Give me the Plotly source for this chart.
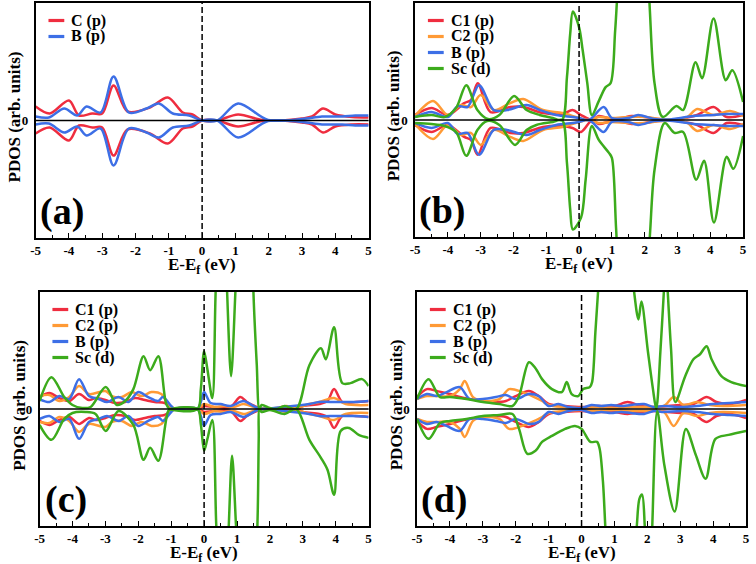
import plotly.graph_objects as go

# ---------------- data (arb. units; y axis spans -117..117) ----------------
X_TICKS = [-5, -4, -3, -2, -1, 0, 1, 2, 3, 4, 5]
X_TICK_TEXT = ["-5", "-4", "-3", "-2", "-1", "0", "1", "2", "3", "4", "5"]

# Panel (a)
A_C_E = [-5.0, -4.58, -4.0, -3.7, -3.3, -3.0, -2.66, -2.24, -1.57, -1.03, -0.58, -0.29, 0.0, 0.45, 1.08, 1.8, 2.4, 3.0, 3.3, 3.63, 4.0, 4.5, 5.0]
A_C_UP = [14, 7, 20, 5, 7, 7, 35, 9, 13, 23, 8, 6, 0, 0, 6, 0.5, 0, 2, 4, 12, 6, 3.5, 3]
A_C_DN = [-13, -7, -20, -5, -7, -7, -35, -9, -13, -23, -8, -6, 0, 0, -6, -0.5, 0, -2, -4, -12, -6, -4, -4]
A_B_E = [-5.0, -4.6, -4.14, -3.75, -3.47, -3.05, -2.66, -2.2, -1.67, -1.3, -0.88, -0.39, 0.0, 0.45, 1.08, 1.98, 3.0, 3.6, 4.2, 4.6, 5.0]
A_B_UP = [4, 3, 12, 5, 14, 8, 44, 8, 12, 17, 7, 5, 0, 0, 17, 0.5, 1.5, 4, 4, 5, 5]
A_B_DN = [-4, -3, -12, -6, -15, -8, -45, -8, -12, -17, -7, -5, 0, 0, -17, -0.5, -1.5, -4, -4, -5, -5]

# Panel (b)
B_C1_E = [-5.0, -4.5, -4.0, -3.5, -3.3, -3.09, -2.7, -2.1, -1.7, -1.1, -0.5, -0.2, 0.06, 0.4, 0.6, 1.0, 1.3, 1.6, 2.0, 2.4, 2.8, 3.1, 3.6, 4.1, 4.5, 5.0]
B_C1_UP = [5, 12, 5, 17, 20, 37, 8, 13, 13, 7, 6, 10, 5, 0, 4, 1, 2, 4, 3, 1, 0.5, 1.5, 5, 13, 3, 5]
B_C1_DN = [-5, -12, -5, -17, -20, -35, -8, -13, -13, -7, -6, -8, -12, 0, -4, -1, -2, -4, -3, -1, -0.5, -1.5, -5, -13, -3, -5]
B_C2_E = [-5.0, -4.45, -4.0, -3.6, -3.3, -3.0, -2.6, -2.1, -1.7, -1.1, -0.5, 0.0, 0.3, 0.6, 1.0, 1.5, 2.0, 2.5, 3.0, 3.3, 3.6, 4.1, 4.6, 5.0]
B_C2_UP = [4, 19, 5, 15, 13, 25, 10, 17, 21, 10, 7, 2, 0, 3, 2, 3, 3, 1, 1, 3, 11, 5, 9, 4]
B_C2_DN = [-4, -19, -5, -15, -13, -25, -10, -17, -21, -10, -7, -2, 0, -3, -2, -3, -3, -1, -1, -3, -11, -5, -9, -4]
B_B_E = [-5.0, -4.5, -4.0, -3.7, -3.4, -3.05, -2.6, -2.2, -1.6, -1.2, -0.7, -0.2, 0.0, 0.3, 0.75, 1.0, 1.5, 1.8, 2.3, 2.7, 3.5, 4.1, 4.5, 5.0]
B_B_UP = [3, 8, 3, 14, 13, 35, 10, 10, 15, 10, 5, 3, 2, 0, 13, 2, 2, 5, 1, 0.5, 4, 5, 6, 6]
B_B_DN = [-3, -8, -3, -14, -13, -35, -10, -10, -15, -10, -5, -3, -2, 0, -12, -2, -2, -5, -1, -0.5, -4, -5, -6, -6]
B_SC_UP_E = [-5.0, -4.5, -4.1, -3.75, -3.44, -3.1, -2.78, -2.43, -1.98, -1.6, -1.2, -0.8, -0.52, -0.37, -0.27, -0.19, 0.0, 0.11, 0.25, 0.39, 0.6, 0.81, 0.96, 1.1, 1.2, 1.5, 1.8, 2.1, 2.3, 2.55, 2.97, 3.17, 3.55, 3.75, 4.1, 4.47, 4.67, 5.0]
B_SC_UP = [3, 5, 3, 12, 35, 10, 1, 5, 24, 10, 5, 2, 0, 43, 87, 109, 93, 70, 37, 5, 19, 33, 37, 90, 140, 220, 220, 140, 37, 3, 14, 10, 58, 42, 102, 40, 50, 18]
B_SC_DN_E = [-5.0, -4.5, -4.1, -3.75, -3.44, -3.1, -2.8, -2.43, -1.95, -1.6, -1.3, -0.8, -0.52, -0.37, -0.27, -0.19, 0.06, 0.2, 0.39, 0.6, 0.91, 1.0, 1.13, 1.3, 1.6, 1.95, 2.15, 2.3, 2.61, 2.91, 3.17, 3.57, 3.81, 4.11, 4.5, 4.7, 5.0]
B_SC_DN = [-3, -4, -6, -12, -36, -10, -1, -5, -25, -10, -5, -2, 0, -43, -90, -110, -98, -60, -6, -20, -33, -38, -110, -200, -220, -200, -120, -50, -3, -13, -12, -60, -41, -103, -37, -49, -16]

# Panel (c)
C_C1_E = [-5.0, -4.7, -4.4, -4.1, -3.8, -3.5, -3.3, -3.0, -2.7, -2.4, -2.1, -1.8, -1.5, -1.2, -1.0, -0.85, -0.2, 0.0, 0.3, 0.8, 1.1, 1.3, 1.6, 1.8, 2.8, 3.0, 3.5, 3.75, 3.95, 4.2, 4.6, 5.0]
C_C1_UP = [12, 16, 11, 8, 15, 9, 11, 9, 6, 7, 11, 9, 7, 6, 2, 0, 0, 3, 2, 2, 12, 7, 2, 0, 0, 3, 5, 8, 20, 7, 7, 8]
C_C1_DN = [-12, -16, -11, -8, -15, -9, -11, -9, -6, -7, -11, -9, -7, -6, -2, 0, 0, -3, -2, -2, -12, -7, -2, 0, 0, -3, -5, -8, -19, -7, -7, -8]
C_C2_E = [-5.0, -4.7, -4.4, -4.1, -3.8, -3.5, -3.0, -2.8, -2.5, -2.2, -1.9, -1.6, -1.3, -1.1, -0.9, -0.2, 0.0, 0.3, 0.6, 0.9, 1.2, 1.6, 2.2, 2.5, 2.8, 3.2, 3.5, 3.95, 4.3, 5.0]
C_C2_UP = [13, 14, 8, 12, 23, 15, 18, 13, 12, 17, 13, 17, 15, 5, 0, 0, 5, 2, 3, 2, 5, 1, 1, 3, 1, 5, 7, 11, 5, 4]
C_C2_DN = [-13, -14, -8, -12, -23, -15, -18, -13, -12, -17, -13, -17, -15, -5, 0, 0, -5, -2, -3, -2, -5, -1, -1, -3, -1, -5, -7, -11, -5, -4]
C_B_E = [-5.0, -4.7, -4.4, -4.1, -3.8, -3.5, -3.2, -2.95, -2.6, -2.3, -2.0, -1.7, -1.4, -1.25, -1.0, -0.9, -0.2, -0.1, 0.0, 0.2, 0.5, 0.8, 1.2, 1.5, 1.7, 2.7, 3.2, 3.5, 4.0, 4.5, 5.0]
C_B_UP = [10, 7, 13, 10, 30, 13, 10, 7, 12, 7, 17, 12, 8, 12, 3, 0, 0, 7, 17, 6, 5, 3, 8, 3, 0.5, 3, 5, 7, 7, 7, 8]
C_B_DN = [-10, -7, -13, -10, -30, -13, -10, -7, -12, -7, -17, -12, -8, -12, -3, 0, 0, -7, -17, -6, -5, -3, -8, -3, -0.5, -3, -5, -7, -7, -7, -8]
C_SC_UP_E = [-5.0, -4.64, -4.25, -4.0, -3.7, -3.45, -2.99, -2.65, -2.4, -2.15, -1.84, -1.64, -1.39, -1.15, -1.04, -0.2, -0.1, 0.0, 0.1, 0.25, 0.35, 0.45, 0.6, 0.7, 0.82, 0.95, 1.05, 1.3, 1.45, 1.5, 1.6, 1.68, 1.75, 2.0, 2.2, 2.45, 2.8, 3.2, 3.55, 3.7, 3.95, 4.2, 4.45, 4.8, 5.0]
C_SC_UP = [8, 32, 12, 4, 1, 2, 22, 4, 8, 20, 53, 39, 53, 5, 0, 0, 20, 58, 40, 11, 117, 200, 220, 117, 33, 117, 200, 220, 200, 117, 45, 0, 4, 1, 0, 3, 0, 44, 61, 50, 82, 26, 26, 30, 23]
C_SC_DN_E = [-5.0, -4.64, -4.25, -4.0, -3.6, -3.3, -2.99, -2.6, -2.15, -1.84, -1.64, -1.39, -1.09, -1.0, -0.2, -0.1, 0.0, 0.1, 0.25, 0.37, 0.5, 0.65, 0.75, 0.85, 0.97, 1.1, 1.3, 1.5, 1.62, 1.66, 1.68, 1.75, 2.0, 2.45, 2.8, 3.2, 3.55, 3.75, 3.95, 4.15, 4.4, 4.7, 5.0]
C_SC_DN = [-16, -31, -10, -4, -3, -5, -22, -2, -16, -51, -39, -52, -2, 0, 0, -15, -42, -30, -11, -117, -200, -200, -117, -47, -117, -200, -220, -200, -117, -30, 0, -3, -1, -5, 0, -31, -49, -61, -86, -22, -19, -26, -29]

# Panel (d)
D_C1_E = [-5.0, -4.7, -4.4, -4.0, -3.7, -3.4, -3.0, -2.6, -2.3, -2.0, -1.6, -1.3, -1.0, -0.5, 0.0, 0.5, 1.0, 1.4, 1.8, 2.2, 2.6, 3.0, 3.4, 3.8, 4.1, 4.5, 5.0]
D_C1_UP = [12, 20, 18, 15, 12, 10, 8, 7, 8, 13, 18, 13, 5, 3, 2, 3, 3, 7, 3, 2, 3, 4, 5, 12, 7, 5, 9]
D_C1_DN = [-12, -20, -18, -15, -12, -10, -8, -7, -8, -13, -18, -13, -5, -3, -2, -3, -3, -5, -3, -2, -3, -4, -5, -13, -7, -5, -9]
D_C2_E = [-5.0, -4.7, -4.4, -4.0, -3.7, -3.55, -3.3, -3.0, -2.5, -2.2, -1.8, -1.5, -1.2, -1.0, -0.5, 0.0, 0.5, 1.0, 1.5, 2.0, 2.5, 2.8, 3.1, 3.5, 3.9, 4.3, 5.0]
D_C2_UP = [10, 13, 13, 13, 20, 28, 12, 8, 10, 20, 17, 13, 8, 4, 2, 1, 2, 1, 2, 2, 3, 12, 4, 7, 4, 3, 4]
D_C2_DN = [-10, -13, -13, -13, -20, -28, -12, -8, -10, -20, -17, -13, -8, -4, -2, -1, -2, -1, -2, -2, -3, -17, -4, -7, -4, -3, -4]
D_B_E = [-5.0, -4.7, -4.4, -4.1, -3.7, -3.4, -3.0, -2.6, -2.3, -2.0, -1.6, -1.3, -1.0, -0.7, -0.4, 0.0, 0.3, 0.6, 0.9, 1.2, 1.5, 1.9, 2.2, 2.5, 3.0, 3.5, 4.0, 4.5, 5.0]
D_B_UP = [10, 15, 13, 17, 22, 10, 10, 12, 14, 10, 15, 13, 3, 5, 2, 1, 4, 3, 4, 3, 4, 5, 2, 3, 2, 3, 5, 6, 7]
D_B_DN = [-10, -15, -13, -17, -22, -10, -10, -12, -14, -10, -15, -13, -3, -5, -2, -1, -4, -3, -4, -3, -4, -5, -2, -3, -2, -3, -5, -6, -7]
D_SC_UP_E = [-5.0, -4.65, -4.3, -4.0, -3.5, -3.0, -2.5, -2.1, -1.9, -1.6, -1.4, -1.2, -0.9, -0.6, -0.45, -0.3, -0.1, 0.05, 0.25, 0.32, 0.42, 0.5, 0.65, 1.4, 1.6, 1.73, 1.82, 2.02, 2.17, 2.27, 2.4, 2.5, 2.56, 2.62, 2.72, 2.85, 3.15, 3.4, 3.6, 3.8, 3.95, 4.25, 4.55, 5.0]
D_SC_UP = [10, 30, 12, 12, 10, 7, 5, 3, 13, 47, 41, 30, 20, 17, 27, 15, 13, 20, 22, 27, 77, 117, 200, 200, 117, 90, 108, 57, 20, 0, 60, 117, 150, 117, 60, 7, 33, 50, 55, 63, 50, 33, 27, 23]
D_SC_DN_E = [-5.0, -4.65, -4.3, -4.0, -3.5, -3.0, -2.5, -2.1, -1.9, -1.65, -1.4, -1.2, -0.9, -0.5, -0.2, 0.0, 0.27, 0.47, 0.55, 0.65, 0.72, 0.85, 1.5, 1.68, 1.76, 1.84, 1.92, 2.0, 2.07, 2.15, 2.3, 2.52, 2.83, 3.17, 3.47, 3.77, 4.07, 4.47, 5.0]
D_SC_DN = [-10, -30, -14, -12, -10, -7, -6, -5, -20, -45, -42, -33, -27, -20, -17, -20, -33, -33, -40, -73, -117, -200, -200, -117, -90, -86, -117, -200, -200, -117, -2, -57, -103, -20, -46, -70, -30, -26, -22]

# ---------------- style ----------------
RED = "#ef2d3f"
ORANGE = "#ff9a35"
BLUE = "#3d6fe6"
GREEN = "#3cab1c"
FONT = "Liberation Serif, Times New Roman, serif"
W, H = 756, 564
YR = 117.5

panels = [
    dict(label="(a)", box=(31, 368, 3, 238),
         series=[("C (p)", RED, A_C_E, A_C_UP, A_C_E, A_C_DN),
                 ("B (p)", BLUE, A_B_E, A_B_UP, A_B_E, A_B_DN)]),
    dict(label="(b)", box=(415, 747, 3, 237),
         series=[("C1 (p)", RED, B_C1_E, B_C1_UP, B_C1_E, B_C1_DN),
                 ("C2 (p)", ORANGE, B_C2_E, B_C2_UP, B_C2_E, B_C2_DN),
                 ("B (p)", BLUE, B_B_E, B_B_UP, B_B_E, B_B_DN),
                 ("Sc (d)", GREEN, B_SC_UP_E, B_SC_UP, B_SC_DN_E, B_SC_DN)]),
    dict(label="(c)", box=(35, 368, 292, 526),
         series=[("C1 (p)", RED, C_C1_E, C_C1_UP, C_C1_E, C_C1_DN),
                 ("C2 (p)", ORANGE, C_C2_E, C_C2_UP, C_C2_E, C_C2_DN),
                 ("B (p)", BLUE, C_B_E, C_B_UP, C_B_E, C_B_DN),
                 ("Sc (d)", GREEN, C_SC_UP_E, C_SC_UP, C_SC_DN_E, C_SC_DN)]),
    dict(label="(d)", box=(417, 750, 292, 526),
         series=[("C1 (p)", RED, D_C1_E, D_C1_UP, D_C1_E, D_C1_DN),
                 ("C2 (p)", ORANGE, D_C2_E, D_C2_UP, D_C2_E, D_C2_DN),
                 ("B (p)", BLUE, D_B_E, D_B_UP, D_B_E, D_B_DN),
                 ("Sc (d)", GREEN, D_SC_UP_E, D_SC_UP, D_SC_DN_E, D_SC_DN)]),
]

def px(x):
    return x / W

def py(y):
    return 1 - y / H

fig = go.Figure()
layout = dict(width=W, height=H, margin=dict(l=0, r=0, t=0, b=0),
              paper_bgcolor="white", plot_bgcolor="white", showlegend=False,
              annotations=[], shapes=[])

for i, p in enumerate(panels, start=1):
    x0, x1, y0, y1 = p["box"]
    sfx = "" if i == 1 else str(i)
    xa, ya = f"x{sfx}", f"y{sfx}"
    for name, col, eu, up, ed, dn in p["series"]:
        for xs, ys in ((eu, up), (ed, dn)):
            fig.add_trace(go.Scatter(x=xs, y=ys, mode="lines", xaxis=xa, yaxis=ya,
                                     line=dict(color=col, width=2.5, shape="spline", smoothing=0.9),
                                     hoverinfo="skip"))
    layout[f"xaxis{sfx}"] = dict(
        domain=[px(x0), px(x1)], anchor=ya, range=[-5, 5],
        tickvals=X_TICKS, ticktext=X_TICK_TEXT, ticks="inside", ticklen=5, tickwidth=1.3,
        tickcolor="black", minor=dict(dtick=0.5, tick0=0, ticks="inside", ticklen=3.5, tickcolor="black", tickwidth=1.2),
        showline=True, linecolor="black", linewidth=1.6, mirror=True, showgrid=False, zeroline=False,
        tickfont=dict(family=FONT, size=13, color="black", weight="bold"))
    layout[f"yaxis{sfx}"] = dict(
        domain=[py(y1), py(y0)], anchor=xa, range=[-YR, YR],
        tickvals=[0], ticktext=["0"], ticks="", showline=True, linecolor="black", linewidth=1.6,
        mirror=True, showgrid=False, zeroline=False, ticklabelstandoff=3,
        tickfont=dict(family=FONT, size=13, color="black", weight="bold"))
    # reference lines: Fermi level and zero
    layout["shapes"].append(dict(type="line", xref=xa, yref=f"{ya} domain", x0=0, x1=0, y0=0, y1=1,
                                 line=dict(color="black", width=1.5, dash="6px,3px")))
    layout["shapes"].append(dict(type="line", xref=f"{xa} domain", yref=ya, x0=0, x1=1, y0=0, y1=0,
                                 line=dict(color="black", width=1.5)))
    # legend (manual)
    for j, (name, col, *_rest) in enumerate(p["series"]):
        yy = y0 + 17.5 + 16 * j
        layout["shapes"].append(dict(type="line", xref="paper", yref="paper",
                                     x0=px(x0 + 13), x1=px(x0 + 29), y0=py(yy), y1=py(yy),
                                     line=dict(color=col, width=3.2)))
        layout["annotations"].append(dict(text=name, xref="paper", yref="paper", x=px(x0 + 34), y=py(yy),
                                          xanchor="left", yanchor="middle", showarrow=False,
                                          font=dict(family=FONT, size=16, color="black", weight="bold")))
    # panel label
    layout["annotations"].append(dict(text=p["label"], xref="paper", yref="paper",
                                      x=px(x0 + 27), y=py(y1 - 27), xanchor="center", yanchor="middle",
                                      showarrow=False,
                                      font=dict(family=FONT, size=38, color="black", weight="bold")))
    # axis titles
    layout["annotations"].append(dict(text="E-E<sub>f</sub> (eV)", xref="paper", yref="paper",
                                      x=px((x0 + x1) / 2), y=py(y1 + 27.5), xanchor="center", yanchor="middle",
                                      showarrow=False,
                                      font=dict(family=FONT, size=17, color="black", weight="bold")))
    layout["annotations"].append(dict(text="PDOS (arb. units)", xref="paper", yref="paper",
                                      x=px(x0 - 21), y=py((y0 + y1) / 2 - 4), xanchor="center", yanchor="middle",
                                      textangle=-90, showarrow=False,
                                      font=dict(family=FONT, size=17, color="black", weight="bold")))

fig.update_layout(**layout)
fig.write_html("out.html", config={"displayModeBar": False},
               post_script="document.body.style.margin='0';document.body.style.padding='0';")
